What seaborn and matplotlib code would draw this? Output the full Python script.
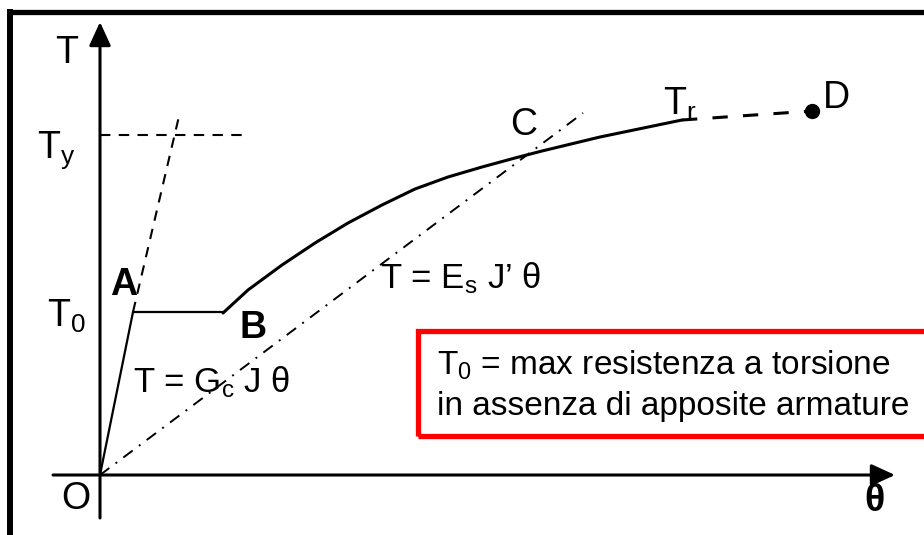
import matplotlib
matplotlib.use("Agg")
import matplotlib.pyplot as plt
from matplotlib.patches import Rectangle
import seaborn as sns
import pandas as pd

# Schematic torque–twist (T–θ) response of a reinforced concrete member
theta_elastic = [0.0, 0.33]            # O -> A, uncracked branch T = Gc J θ
T_elastic = [0.0, 1.63]
theta_plateau = [0.33, 1.23]           # A -> B, cracking plateau at T0
T_plateau = [1.63, 1.63]
theta_post = [1.23, 1.48, 1.82, 2.15, 2.48, 2.82, 3.15, 3.48, 3.82, 4.15,
              4.42, 5.00, 5.82]        # B -> C -> Tr
T_post = [1.62, 1.85, 2.10, 2.32, 2.52, 2.70, 2.86, 2.98, 3.08, 3.17,
          3.24, 3.38, 3.55]
theta_tail = [5.82, 7.12]              # Tr -> D
T_tail = [3.55, 3.64]
theta_gc_ext = [0.33, 0.80]            # extension of the elastic branch
T_gc_ext = [1.63, 3.63]
theta_steel = [0.0, 4.83]              # T = Es J' θ
T_steel = [0.0, 3.62]
T_y = 3.40
theta_ty_end = 1.50

sns.set_theme(style="white")
plt.rcParams["font.family"] = ["Liberation Sans", "DejaVu Sans"]
plt.rcParams["text.color"] = "black"
plt.rcParams["mathtext.fontset"] = "custom"
plt.rcParams["mathtext.rm"] = "Liberation Sans"
plt.rcParams["mathtext.it"] = "Liberation Sans"

fig = plt.figure(figsize=(9.24, 5.35), dpi=100)
ax = fig.add_axes([0, 0, 1, 1])
ax.set_xlim(-1.00, 8.24)
ax.set_ylim(-0.60, 4.75)
ax.axis("off")

K = "black"

def seg(x, y, **kw):
    df = pd.DataFrame({"theta": x, "T": y})
    sns.lineplot(data=df, x="theta", y="T", ax=ax, sort=False, color=K,
                 legend=False, **kw)

# outer frame (top and left edges)
ax.plot([-0.90, 8.24], [4.625, 4.625], color=K, lw=3.8, solid_capstyle="butt")
ax.plot([-0.90, -0.90], [4.66, -0.60], color=K, lw=4.3, solid_capstyle="butt")

# axes with arrows
arrow = dict(arrowstyle="-|>,head_length=1.2,head_width=0.55", color=K, lw=2.2,
             shrinkA=0, shrinkB=0)
ax.annotate("", xy=(7.95, 0.0), xytext=(-0.47, 0.0), arrowprops=arrow)
ax.annotate("", xy=(0.0, 4.53), xytext=(0.0, -0.43), arrowprops=arrow)

# guide lines
ax.plot([0.0, theta_ty_end], [T_y, T_y], color=K, lw=1.5, dashes=(5, 4))
seg(theta_gc_ext, T_gc_ext, lw=1.5, dashes=(5, 4))
seg(theta_steel, T_steel, lw=1.4, dashes=(6, 4, 1, 4))

# response curve
seg(theta_elastic, T_elastic, lw=1.6)
seg(theta_plateau, T_plateau, lw=1.6)
seg(theta_post, T_post, lw=2.2)
seg(theta_tail, T_tail, lw=2.2, dashes=(5, 5))
ax.plot([theta_tail[-1]], [T_tail[-1]], "o", color=K, ms=10)

big = 27
ax.text(-0.33, 4.12, "T", fontsize=big, ha="center", va="baseline")
ax.text(-0.63, 3.17, "T$_{\\mathrm{y}}$", fontsize=big, ha="left", va="baseline")
ax.text(-0.53, 1.48, "T$_{\\mathrm{0}}$", fontsize=big, ha="left", va="baseline")
ax.text(0.10, 1.80, "A", fontsize=big, ha="left", va="baseline", fontweight="bold")
ax.text(1.40, 1.37, "B", fontsize=big, ha="left", va="baseline", fontweight="bold")
ax.text(4.10, 3.40, "C", fontsize=big, ha="left", va="baseline")
ax.text(5.63, 3.60, "T$_{\\mathrm{r}}$", fontsize=big, ha="left", va="baseline")
ax.text(7.23, 3.67, "D", fontsize=big, ha="left", va="baseline")
ax.text(-0.24, -0.24, "O", fontsize=big, ha="center", va="center")
ax.text(7.75, -0.26, "θ", fontsize=big, ha="center", va="center", fontweight="bold")

ax.text(0.33, 0.83, "T = G$_{\\mathrm{c}}$ J θ", fontsize=25, ha="left",
        va="baseline")
ax.text(2.80, 1.87, "T = E$_{\\mathrm{s}}$ J’ θ", fontsize=25, ha="left",
        va="baseline")

# note box
ax.add_patch(Rectangle((3.18, 0.39), 6.0, 1.05, fill=False, edgecolor="#ff0000",
                       lw=3.8))
ax.text(3.37, 1.00, "T$_{\\mathrm{0}}$ = max resistenza a torsione", fontsize=24,
        ha="left", va="baseline")
ax.text(3.37, 0.60, "in assenza di apposite armature", fontsize=24,
        ha="left", va="baseline")

fig.savefig("out.png", dpi=100)
